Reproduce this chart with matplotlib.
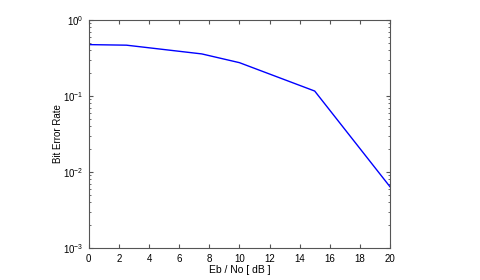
import matplotlib
matplotlib.use("Agg")
import matplotlib.pyplot as plt
from matplotlib.ticker import LogLocator

# Eb/No values and measured bit error rate
ebno_db = [0, 2.5, 7.5, 10, 15, 20]
ber = [0.473, 0.465, 0.357, 0.274, 0.116, 0.0064]

plt.rcParams['font.family'] = ['Liberation Sans', 'DejaVu Sans']
plt.rcParams['mathtext.fontset'] = 'custom'
plt.rcParams['mathtext.rm'] = 'Liberation Sans'

fig = plt.figure(figsize=(4.8, 2.8), dpi=100)
ax = fig.add_axes([0.185, 0.114, 0.6275, 0.815])

ax.semilogy(ebno_db, ber, color='#0000ff', linewidth=1.0)

ax.set_xlim(0, 20)
ax.set_ylim(1e-3, 1)
ax.set_xticks(range(0, 21, 2))
ax.yaxis.set_major_locator(LogLocator(base=10, numticks=10))
ax.yaxis.set_minor_locator(LogLocator(base=10, subs=range(2, 10), numticks=10))
ax.yaxis.set_minor_formatter(plt.NullFormatter())

ax.tick_params(which='both', direction='in', top=True, right=True,
               labelsize=7, color='#555555', length=3, pad=4)
ax.tick_params(which='minor', length=1.5)
for s in ax.spines.values():
    s.set_color('#555555')
    s.set_linewidth(0.8)

ax.set_xlabel('Eb / No [ dB ]', fontsize=7.5, labelpad=1)
ax.set_ylabel('Bit Error Rate', fontsize=7, labelpad=0)

fig.savefig('out.png', dpi=100)
